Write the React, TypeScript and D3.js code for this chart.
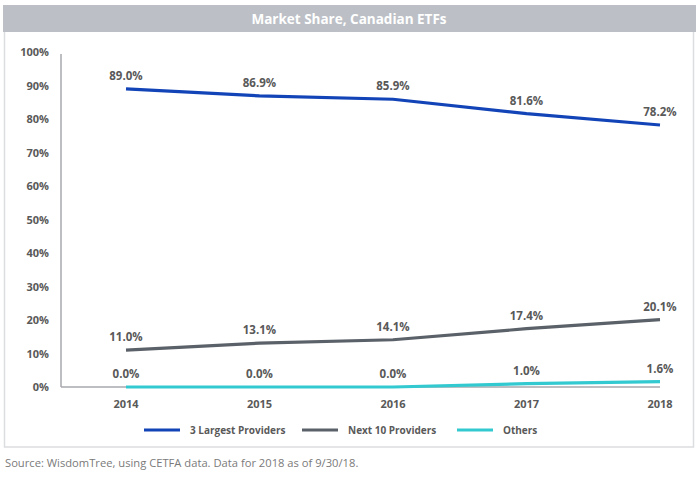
import React from "react";
import * as d3 from "d3";

const years = ["2014", "2015", "2016", "2017", "2018"];
const largest3 = [89.0, 86.9, 85.9, 81.6, 78.2];
const next10 = [11.0, 13.1, 14.1, 17.4, 20.1];
const others = [0.0, 0.0, 0.0, 1.0, 1.6];
const yTicks = [0, 10, 20, 30, 40, 50, 60, 70, 80, 90, 100];
const seriesNames = ["3 Largest Providers", "Next 10 Providers", "Others"];
const seriesColors = ["#1244b8", "#5b6168", "#33c9d0"];

export default function App() {
  const W = 697, H = 478;
  const x = d3.scalePoint<string>().domain(years).range([126, 660]);
  const y = d3.scaleLinear().domain([0, 100]).range([387, 52]);
  const series = [largest3, next10, others];
  const line = d3.line<number>().x((_, i) => x(years[i])!).y((d) => y(d));
  const font = "'Open Sans', 'Noto Sans', sans-serif";
  const legendX = [144, 302, 457];
  return (
    <svg width={W} height={H} style={{ position: "absolute", left: 0, top: 0 }} fontFamily={font}>
      <rect x={0} y={0} width={W} height={H} fill="#fff" />
      <rect x={4.5} y={20} width={689} height={427} fill="none" stroke="#dcdde0" strokeWidth={1.5} />
      <rect x={3} y={5} width={693} height={27} fill="#bcbfc6" />
      <text x={349} y={24} textAnchor="middle" fill="#fff" fontWeight={700} fontSize={13.5}>
        Market Share, Canadian ETFs
      </text>
      <line x1={61} x2={61} y1={54} y2={387} stroke="#a7a9ad" strokeWidth={1.5} />
      <line x1={61} x2={660} y1={387} y2={387} stroke="#a7a9ad" strokeWidth={1.5} />
      {yTicks.map((t) => (
        <text key={t} x={49} y={y(t) + 4} textAnchor="end" fill="#595959" fontWeight={700} fontSize={11}>
          {t}%
        </text>
      ))}
      {years.map((yr) => (
        <text key={yr} x={x(yr)} y={408} textAnchor="middle" fill="#595959" fontWeight={700} fontSize={11}>
          {yr}
        </text>
      ))}
      {series.map((s, k) => (
        <g key={k}>
          <path d={line(s) || ""} fill="none" stroke={seriesColors[k]} strokeWidth={3.2} />
          {s.map((v, i) => (
            <text key={i} x={x(years[i])} y={y(v) - 9} textAnchor="middle" fill="#595959" fontWeight={700} fontSize={11.5}>
              {v.toFixed(1)}%
            </text>
          ))}
        </g>
      ))}
      {seriesNames.map((n, k) => (
        <g key={n}>
          <line x1={legendX[k]} x2={legendX[k] + 36} y1={430} y2={430} stroke={seriesColors[k]} strokeWidth={3.2} />
          <text x={legendX[k] + 46} y={434} fill="#595959" fontWeight={700} fontSize={10}>
            {n}
          </text>
        </g>
      ))}
      <text x={5} y={467} fill="#7a7a7a" fontSize={11.2}>
        Source: WisdomTree, using CETFA data. Data for 2018 as of 9/30/18.
      </text>
    </svg>
  );
}
